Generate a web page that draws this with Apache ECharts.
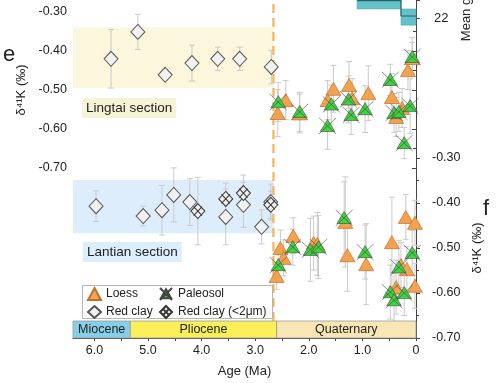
<!DOCTYPE html>
<html><head><meta charset="utf-8">
<script src="https://cdn.jsdelivr.net/npm/echarts@6/dist/echarts.min.js"></script>
<style>html,body{margin:0;padding:0;background:#fff}#c{width:500px;height:383px}</style>
</head><body><div id="c"></div>
<script>
// ---------- data ----------
// Lingtai section (panel e)
const ltLoessAge = [2.43, 2.58, 2.17, 1.54, 1.65, 1.25, 1.19, 0.89, 0.45, 0.37, 0.26, 0.15, 0.07];
const ltLoessVal = [-0.526, -0.559, -0.560, -0.497, -0.526, -0.487, -0.521, -0.508, -0.518, -0.569, -0.546, -0.449, -0.418];
const ltLoessErr = [0.05, 0.06, 0.05, 0.06, 0.05, 0.06, 0.05, 0.07, 0.06, 0.05, 0.05, 0.05, 0.04];
const ltPaleoAge = [2.57, 2.17, 1.58, 1.65, 1.26, 1.21, 0.95, 0.48, 0.41, 0.32, 0.11, 0.22, 0.07];
const ltPaleoVal = [-0.531, -0.556, -0.537, -0.592, -0.524, -0.564, -0.549, -0.474, -0.559, -0.556, -0.541, -0.636, -0.415];
const ltPaleoErr = [0.05, 0.05, 0.05, 0.06, 0.06, 0.05, 0.06, 0.04, 0.05, 0.05, 0.07, 0.04, 0.05];
const ltClayAge = [5.69, 5.19, 4.68, 4.18, 3.70, 3.29, 2.70];
const ltClayVal = [-0.420, -0.351, -0.461, -0.431, -0.420, -0.420, -0.441];
const ltClayErr = [0.075, 0.045, 0.005, 0.046, 0.03, 0.03, 0.043];
// Lantian section (panel f)
const lnLoessAge = [2.60, 2.53, 2.47, 2.29, 1.91, 1.84, 1.32, 1.28, 0.93, 0.45, 0.28, 0.37, 0.17, 0.19, 0.02, 0.02];
const lnLoessVal = [-0.562, -0.500, -0.522, -0.473, -0.489, -0.491, -0.442, -0.516, -0.536, -0.487, -0.538, -0.587, -0.547, -0.431, -0.444, -0.584];
const lnLoessErr = [0.03, 0.04, 0.04, 0.04, 0.06, 0.07, 0.10, 0.08, 0.09, 0.10, 0.05, 0.06, 0.05, 0.05, 0.05, 0.05];
const lnPaleoAge = [2.57, 2.30, 1.97, 1.82, 1.34, 0.95, 0.48, 0.41, 0.32, 0.22, 0.07];
const lnPaleoVal = [-0.538, -0.498, -0.504, -0.498, -0.433, -0.509, -0.598, -0.616, -0.543, -0.600, -0.511];
const lnPaleoErr = [0.03, 0.04, 0.07, 0.07, 0.08, 0.06, 0.06, 0.06, 0.06, 0.05, 0.05];
const lnClayAge = [5.97, 5.09, 4.74, 4.52, 4.22, 3.55, 3.22, 2.88, 2.71];
const lnClayVal = [-0.407, -0.429, -0.416, -0.382, -0.398, -0.431, -0.404, -0.453, -0.398];
const lnClayErr = [0.034, 0.022, 0.055, 0.06, 0.052, 0.062, 0.05, 0.038, 0.04];
const lnFineAge = [4.07, 3.55, 3.22, 2.71];
const lnFineVal = [-0.418, -0.391, -0.378, -0.404];
const lnFineErr = [0.075, 0.035, 0.04, 0.03];
// background bands [ageStart, ageEnd, yTop, yBottom]
const lingtaiBand = [6.4, 2.66, -0.34, -0.495];
const lantianBand = [6.4, 2.66, -0.349, -0.467];
// epochs
const epochNames = ['Miocene', 'Pliocene', 'Quaternary'];
const epochStart = [6.4, 5.33, 2.6];
const epochEnd = [5.33, 2.6, 0];
const epochColors = ['#86cfe8', '#fbf059', '#f9e6b4'];
// boundary dashed line
const boundaryAge = 2.66;
// grain-size panel (partially visible)
const grainStart = [1.10, 0.28];
const grainEnd = [0.28, 0.0];
const grainLow = [22.5, 21.6];
const grainHigh = [23.6, 22.5];
const grainStepAge = [1.10, 0.28, 0.0];
const grainStepVal = [22.97, 22.11, 22.11];
// ticks
const xTickValues = [0, 1, 2, 3, 4, 5, 6];
const xMinorTicks = [0, 0.5, 1, 1.5, 2, 2.5, 3, 3.5, 4, 4.5, 5, 5.5, 6];
const grainTickLabels = [22];
const grainTicks = [22, 23];

// ---------- helpers ----------
const FONT = 'Liberation Sans, Arial, Helvetica, sans-serif';
const TXT = '#222';
const pts = (a, v) => a.map((x, i) => [x, v[i]]);
function errSeries(idx, ages, vals, errs) {
  return {
    type: 'custom', xAxisIndex: idx, yAxisIndex: idx, z: 1, silent: true, clip: false,
    data: ages.map((a, i) => [a, vals[i] - errs[i], vals[i] + errs[i]]),
    encode: { x: 0, y: [1, 2] },
    renderItem(p, api) {
      const lo = api.coord([api.value(0), api.value(1)]);
      const hi = api.coord([api.value(0), api.value(2)]);
      const c = 3, st = { stroke: '#cacaca', lineWidth: 1 };
      return { type: 'group', children: [
        { type: 'line', shape: { x1: lo[0], y1: lo[1], x2: hi[0], y2: hi[1] }, style: st },
        { type: 'line', shape: { x1: lo[0] - c, y1: lo[1], x2: lo[0] + c, y2: lo[1] }, style: st },
        { type: 'line', shape: { x1: hi[0] - c, y1: hi[1], x2: hi[0] + c, y2: hi[1] }, style: st }
      ]};
    }
  };
}
const paleoSym = 'path://M0,0L20,20M20,0L0,20M10,2L18.5,17L1.5,17Z';
const fineSym = 'path://M10,0L20,10L10,20L0,10ZM4,4L16,16M16,4L4,16';
function loess(idx, a, v) {
  return { name: 'Loess', type: 'scatter', xAxisIndex: idx, yAxisIndex: idx, z: 3,
    symbol: 'triangle', symbolSize: [15, 13], data: pts(a, v),
    itemStyle: { color: '#f4a150', borderColor: '#b9722f', borderWidth: 0.7, opacity: 1 } };
}
function paleo(idx, a, v) {
  return { name: 'Paleosol', type: 'scatter', xAxisIndex: idx, yAxisIndex: idx, z: 4,
    symbol: paleoSym, symbolSize: [17, 16], data: pts(a, v),
    itemStyle: { color: '#3fd43f', borderColor: '#444', borderWidth: 0.6, opacity: 1 } };
}
function clay(idx, a, v) {
  return { name: 'Red clay', type: 'scatter', xAxisIndex: idx, yAxisIndex: idx, z: 3,
    symbol: 'diamond', symbolSize: [14, 15], data: pts(a, v),
    itemStyle: { color: '#f1f1f1', borderColor: '#555', borderWidth: 1, opacity: 1 } };
}
function fine(idx, a, v) {
  return { name: 'Red clay (<2μm)', type: 'scatter', xAxisIndex: idx, yAxisIndex: idx, z: 4,
    symbol: fineSym, symbolSize: [14, 15], data: pts(a, v),
    itemStyle: { color: '#eeeeee', borderColor: '#333', borderWidth: 1, opacity: 1 } };
}
function band(idx, b, color) {
  return { type: 'line', xAxisIndex: idx, yAxisIndex: idx, z: 0, silent: true, data: [],
    markArea: { silent: true, itemStyle: { color: color },
      data: [[{ xAxis: b[0], yAxis: b[2] }, { xAxis: b[1], yAxis: b[3] }]] } };
}
const hiddenX = i => ({ type: 'value', gridIndex: i, min: 0, max: 6.4, inverse: true, show: false });
const d41Axis = (i, pos, nameGap) => ({
  type: 'value', gridIndex: i, position: pos, offset: pos === 'right' ? 10 : 0,
  min: -0.7, max: -0.3, interval: 0.1,
  name: 'δ⁴¹K (‰)', nameLocation: 'middle', nameGap: nameGap,
  nameTextStyle: { fontSize: 13, color: TXT, fontFamily: FONT },
  axisLine: { show: true, lineStyle: { color: '#444', width: 1 } },
  axisTick: { show: true, inside: false, length: 4, lineStyle: { color: '#444' } },
  minorTick: { show: true, splitNumber: 2, length: 3, lineStyle: { color: '#444' } },
  splitLine: { show: false },
  axisLabel: { fontSize: 12.5, color: TXT, fontFamily: FONT, margin: 6, formatter: v => v.toFixed(2) }
});
const G = (top, height) => ({ left: 73, right: 84, top: top, height: height, containLabel: false, outerBoundsMode: 'none' });

const option = {
  animation: false,
  backgroundColor: '#fff',
  grid: [
    G(12, 156),   // e
    G(158, 180),  // f
    G(321, 17),   // epochs
    G(0, 321),    // boundary overlay
    G(-67, 94)    // grain size
  ],
  xAxis: [
    hiddenX(0), hiddenX(1),
    { type: 'value', gridIndex: 2, min: 0, max: 6.4, inverse: true,
      name: 'Age (Ma)', nameLocation: 'middle', nameGap: 27,
      nameTextStyle: { fontSize: 13, color: TXT, fontFamily: FONT },
      axisLine: { show: true, lineStyle: { color: '#444' } },
      axisTick: { show: true, length: 3, customValues: xMinorTicks, lineStyle: { color: '#444' } },
      splitLine: { show: false },
      axisLabel: { customValues: xTickValues, fontSize: 12.5, color: TXT, fontFamily: FONT, margin: 6,
        formatter: v => (v === 0 ? '0' : v.toFixed(1)) } },
    hiddenX(3), hiddenX(4)
  ],
  yAxis: [
    d41Axis(0, 'left', 38),
    d41Axis(1, 'right', 44),
    { type: 'value', gridIndex: 2, min: 0, max: 1, show: false },
    { type: 'value', gridIndex: 3, min: 0, max: 1, show: false },
    { type: 'value', gridIndex: 4, position: 'right', offset: 10, min: 21.5, max: 26.72,
      name: 'Mean grain size (μm)', nameLocation: 'middle', nameGap: 34,
      nameTextStyle: { fontSize: 13, color: TXT, fontFamily: FONT },
      axisLine: { show: true, lineStyle: { color: '#444' } },
      axisTick: { show: true, length: 4, customValues: grainTicks, lineStyle: { color: '#444' } },
      splitLine: { show: false },
      axisLabel: { customValues: grainTickLabels, fontSize: 13, color: TXT, fontFamily: FONT, margin: 8 } }
  ],
  legend: [
    { orient: 'vertical', left: 87, top: 287, padding: 0, itemGap: 4, itemWidth: 13, itemHeight: 12,
      selectedMode: false, data: ['Loess', 'Red clay'], z: 6,
      textStyle: { fontSize: 12, color: TXT, fontFamily: FONT } },
    { orient: 'vertical', left: 159, top: 287, padding: 0, itemGap: 4, itemWidth: 14, itemHeight: 12,
      selectedMode: false, data: ['Paleosol', 'Red clay (<2μm)'], z: 6,
      textStyle: { fontSize: 12, color: TXT, fontFamily: FONT } }
  ],
  graphic: [
    { type: 'rect', left: 82, top: 285, shape: { width: 190, height: 33 }, z: 5,
      style: { fill: '#fff', stroke: '#b5b5b5', lineWidth: 1 } },
    { type: 'text', left: 82, top: 98, z: 5,
      style: { text: 'Lingtai section', fontSize: 13.5, fill: TXT, fontFamily: FONT,
        backgroundColor: '#f6f3d6', padding: [3, 4, 3, 4] } },
    { type: 'text', left: 83, top: 242, z: 5,
      style: { text: 'Lantian section', fontSize: 13.5, fill: TXT, fontFamily: FONT,
        backgroundColor: '#dcedfb', padding: [3, 4, 3, 4] } },
    { type: 'text', left: 3, top: 44, z: 5, style: { text: 'e', fontSize: 22, fill: TXT, fontFamily: FONT } },
    { type: 'text', left: 483, top: 198, z: 5, style: { text: 'f', fontSize: 22, fill: TXT, fontFamily: FONT } }
  ],
  series: [
    band(0, lingtaiBand, '#fbf6dc'),
    band(1, lantianBand, '#ddedfb'),
    errSeries(0, ltLoessAge, ltLoessVal, ltLoessErr),
    errSeries(0, ltPaleoAge, ltPaleoVal, ltPaleoErr),
    errSeries(0, ltClayAge, ltClayVal, ltClayErr),
    errSeries(1, lnLoessAge, lnLoessVal, lnLoessErr),
    errSeries(1, lnPaleoAge, lnPaleoVal, lnPaleoErr),
    errSeries(1, lnClayAge, lnClayVal, lnClayErr),
    errSeries(1, lnFineAge, lnFineVal, lnFineErr),
    { type: 'line', xAxisIndex: 3, yAxisIndex: 3, z: 2, silent: true, symbol: 'none',
      data: [[boundaryAge, 0], [boundaryAge, 1]],
      lineStyle: { color: '#f5b35c', width: 2.2, type: [9, 5] } },
    loess(0, ltLoessAge, ltLoessVal),
    paleo(0, ltPaleoAge, ltPaleoVal),
    clay(0, ltClayAge, ltClayVal),
    loess(1, lnLoessAge, lnLoessVal),
    paleo(1, lnPaleoAge, lnPaleoVal),
    clay(1, lnClayAge, lnClayVal),
    fine(1, lnFineAge, lnFineVal),
    { type: 'custom', xAxisIndex: 2, yAxisIndex: 2, z: 3, silent: true, clip: false,
      data: epochNames.map((n, i) => [epochStart[i], epochEnd[i], i]),
      encode: { x: [0, 1] },
      renderItem(p, api) {
        const i = api.value(2);
        const a = api.coord([api.value(0), 1]);
        const b = api.coord([api.value(1), 0]);
        return { type: 'group', children: [
          { type: 'rect', shape: { x: a[0], y: a[1], width: b[0] - a[0], height: b[1] - a[1] },
            style: { fill: epochColors[i], stroke: '#9a9a9a', lineWidth: 0.8 } },
          { type: 'text', x: (a[0] + b[0]) / 2, y: (a[1] + b[1]) / 2,
            style: { text: epochNames[i], fontSize: 12.5, fill: TXT, fontFamily: FONT, align: 'center', verticalAlign: 'middle' } }
        ]};
      } },
    { type: 'custom', xAxisIndex: 4, yAxisIndex: 4, z: 2, silent: true, clip: false,
      data: grainStart.map((s, i) => [s, grainEnd[i], grainLow[i], grainHigh[i]]),
      encode: { x: [0, 1], y: [2, 3] },
      renderItem(p, api) {
        const a = api.coord([api.value(0), api.value(3)]);
        const b = api.coord([api.value(1), api.value(2)]);
        return { type: 'rect', shape: { x: a[0], y: a[1], width: b[0] - a[0], height: b[1] - a[1] },
          style: { fill: '#63c2c8', stroke: '#4aa7ad', lineWidth: 0.5 } };
      } },
    { type: 'line', xAxisIndex: 4, yAxisIndex: 4, z: 3, silent: true, symbol: 'none', step: 'end',
      data: pts(grainStepAge, grainStepVal), lineStyle: { color: '#2f5f63', width: 1.2 } }
  ]
};
const chart = echarts.init(document.getElementById('c'), null, { renderer: 'canvas' });
chart.setOption(option);
</script>
</body></html>
